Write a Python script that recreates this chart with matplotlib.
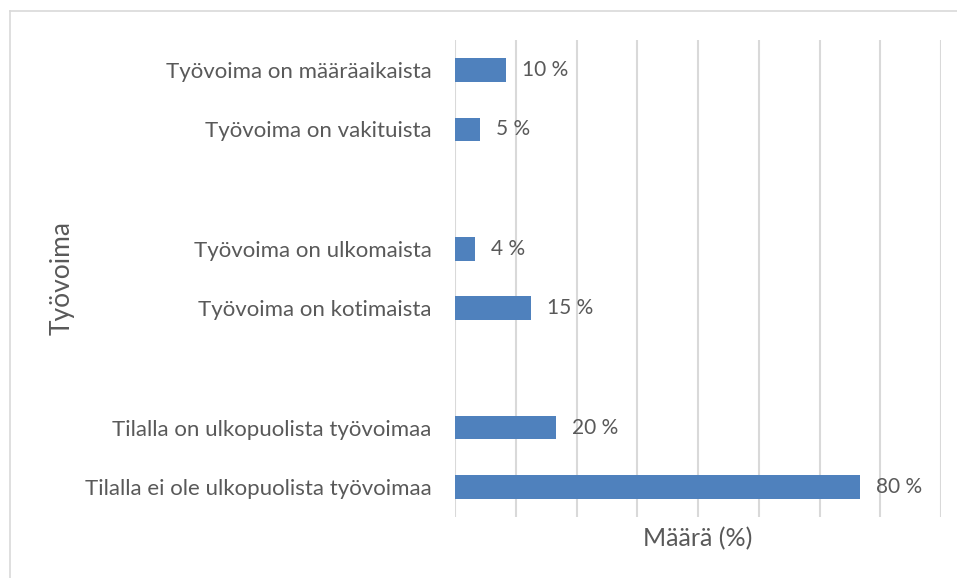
import matplotlib
matplotlib.use("Agg")
import matplotlib.pyplot as plt
from matplotlib.lines import Line2D

plt.rcParams['font.family'] = ['Lato', 'DejaVu Sans']

labels = ['Tilalla ei ole ulkopuolista työvoimaa',
          'Tilalla on ulkopuolista työvoimaa',
          '',
          'Työvoima on kotimaista',
          'Työvoima on ulkomaista',
          '',
          'Työvoima on vakituista',
          'Työvoima on määräaikaista']
values = [80, 20, None, 15, 4, None, 5, 10]
value_text = ['80 %', '20 %', '', '15 %', '4 %', '', '5 %', '10 %']

text_col = '#595959'

fig = plt.figure(figsize=(9.57, 5.78), dpi=100)
ax = fig.add_axes([455 / 957, 61 / 578, 486 / 957, 477 / 578])

pos = list(range(len(labels)))
bar_pos = [p for p, v in zip(pos, values) if v is not None]
bar_val = [v for v in values if v is not None]
ax.barh(bar_pos, bar_val, height=0.4, color='#4f81bd', zorder=3)

for p, v, t in zip(pos, values, value_text):
    if v is not None:
        ax.annotate(t, (v, p), xytext=(11.5, 0), textcoords='offset points',
                    va='center', ha='left', fontsize=15, color=text_col)

ax.set_xlim(0, 96)
ax.set_ylim(-0.5, 7.5)
ax.set_xticks(range(0, 97, 12))
ax.set_xticklabels([])
ax.set_yticks(pos)
ax.set_yticklabels(labels, fontsize=16, color=text_col)
ax.tick_params(axis='both', length=0)
ax.tick_params(axis='y', pad=17)
ax.grid(axis='x', color='#d9d9d9', linewidth=1.5, zorder=0)
for s in ax.spines.values():
    s.set_visible(False)

ax.set_xlabel('Määrä (%)', fontsize=18, color=text_col, labelpad=4)
fig.text(62 / 957, 1 - 278 / 578, 'Työvoima', rotation=90, fontsize=19,
         color=text_col, ha='center', va='center')

# chart border (only top and left visible in the crop)
fig.add_artist(Line2D([9.5 / 957, 1], [1 - 10.5 / 578, 1 - 10.5 / 578],
                      transform=fig.transFigure, color='#d9d9d9', linewidth=1.2))
fig.add_artist(Line2D([9.5 / 957, 9.5 / 957], [0, 1 - 10.5 / 578],
                      transform=fig.transFigure, color='#d9d9d9', linewidth=1.2))

fig.savefig('out.png', dpi=100)
